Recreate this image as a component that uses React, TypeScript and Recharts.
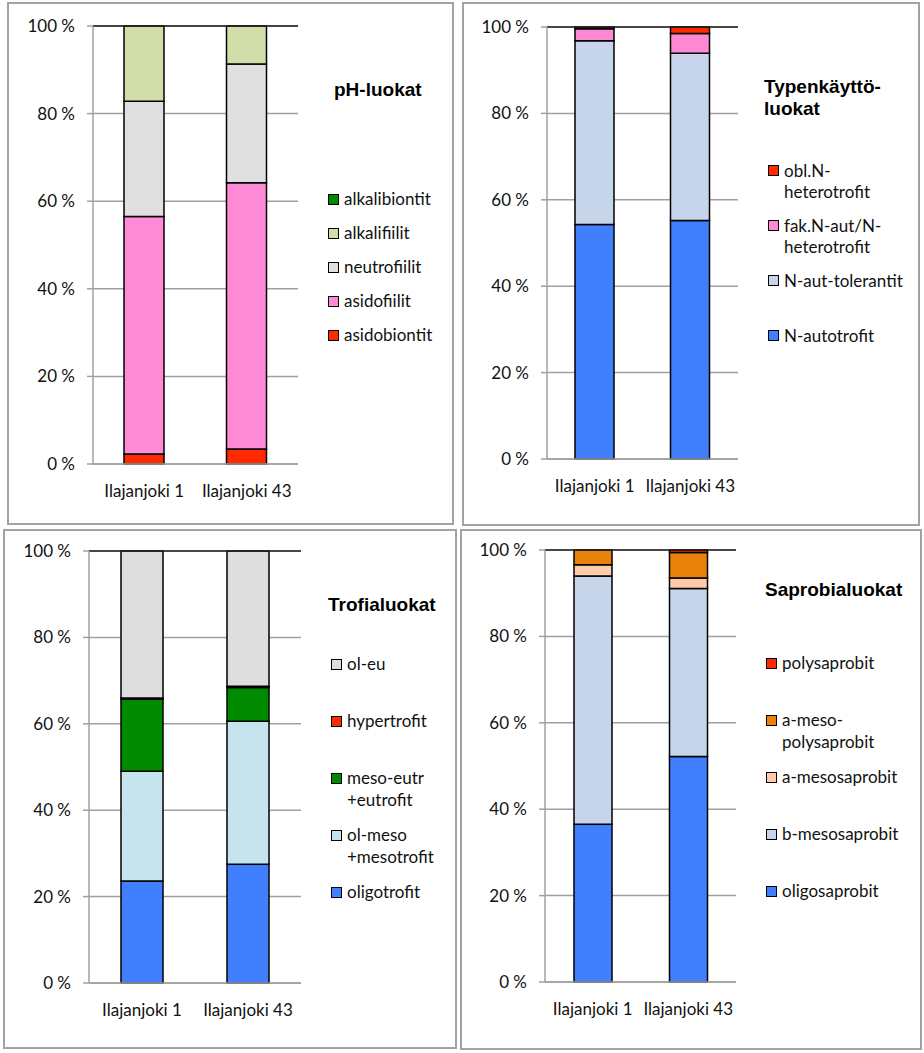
import React from 'react';
import { BarChart, Bar, XAxis, YAxis, CartesianGrid, ReferenceLine } from 'recharts';

const categories = ['Ilajanjoki 1', 'Ilajanjoki 43'];
const yTicks = [0, 20, 40, 60, 80, 100];

// pH-luokat (bottom to top)
const phSeries = ['asidobiontit', 'asidofiilit', 'neutrofiilit', 'alkalifiilit', 'alkalibiontit'];
const phColors = ['#FF2A00', '#FF8AD6', '#E0E0E0', '#D2DEAA', '#008A00'];
const phValues = [
  [2.3, 3.4],
  [54.2, 60.8],
  [26.3, 27.1],
  [17.2, 8.7],
  [0, 0],
];

// Typenkäyttöluokat
const nSeries = ['N-autotrofit', 'N-aut-tolerantit', 'fak.N-aut/N-\nheterotrofit', 'obl.N-\nheterotrofit'];
const nColors = ['#4080FF', '#C6D5EA', '#FF88D4', '#FF2A00'];
const nValues = [
  [54.3, 55.2],
  [42.5, 38.7],
  [2.8, 4.6],
  [0.4, 1.5],
];

// Trofialuokat
const trSeries = ['oligotrofit', 'ol-meso\n+mesotrofit', 'meso-eutr\n+eutrofit', 'hypertrofit', 'ol-eu'];
const trColors = ['#4080FF', '#C6E4EE', '#008A00', '#FF2A00', '#DEDEDE'];
const trValues = [
  [23.6, 27.5],
  [25.4, 33.1],
  [16.7, 7.8],
  [0.3, 0.3],
  [34.0, 31.3],
];

// Saprobialuokat
const saSeries = ['oligosaprobit', 'b-mesosaprobit', 'a-mesosaprobit', 'a-meso-\npolysaprobit', 'polysaprobit'];
const saColors = ['#4080FF', '#C6D5EA', '#FFCBA8', '#E8820A', '#FF2A00'];
const saValues = [
  [36.5, 52.2],
  [57.5, 38.9],
  [2.6, 2.4],
  [3.4, 5.9],
  [0, 0.6],
];

const FONT = 'Lato, "Liberation Sans", sans-serif';

const buildRows = (series: string[], values: number[][]) =>
  categories.map((name, i) => {
    const row: any = { name };
    series.forEach((s, j) => {
      row[s] = values[j][i];
    });
    return row;
  });

interface PanelProps {
  title: string[];
  series: string[];
  colors: string[];
  values: number[][];
  box: [number, number, number, number];
  margin: { top: number; right: number; bottom: number; left: number };
  barSize: number;
  titlePos: { left: number; top: number };
  legendPos: { left: number; top: number };
  slot: number;
  lineHeight: number;
}

const Panel: React.FC<PanelProps> = ({
  title, series, colors, values, box, margin, barSize, titlePos, legendPos, slot, lineHeight,
}) => {
  const [x0, y0, x1, y1] = box;
  const data = buildRows(series, values);
  // legend lists the top series first
  const legendItems = series.map((s, i) => ({ name: s, color: colors[i] })).reverse();

  return (
    <>
      <div
        style={{
          position: 'absolute',
          left: x0 - 1,
          top: y0 - 1,
          width: x1 - x0 + 2,
          height: y1 - y0 + 2,
          border: '2px solid #a3a3a3',
          boxSizing: 'border-box',
        }}
      />
      <div style={{ position: 'absolute', left: x0, top: y0 }}>
        <BarChart width={x1 - x0} height={y1 - y0} data={data} margin={margin}>
          <CartesianGrid vertical={false} stroke="#a0a0a0" strokeWidth={1.5} />
          <XAxis
            dataKey="name"
            height={1}
            tickLine={false}
            tickSize={0}
            tickMargin={21}
            axisLine={{ stroke: '#a0a0a0', strokeWidth: 1.5 }}
            tick={{ fontFamily: FONT, fontSize: 17, fill: '#111' }}
            interval={0}
          />
          <XAxis
            xAxisId="edge"
            type="number"
            domain={[0, 2]}
            ticks={[0, 1, 2]}
            height={1}
            tick={false}
            axisLine={false}
            tickSize={6}
            tickLine={{ stroke: '#a0a0a0', strokeWidth: 1.5 }}
          />
          <YAxis
            width={60}
            domain={[0, 100]}
            ticks={yTicks}
            tickFormatter={(v) => `${v} %`}
            tickSize={6}
            tickMargin={12}
            tickLine={{ stroke: '#a0a0a0', strokeWidth: 1.5 }}
            axisLine={{ stroke: '#a0a0a0', strokeWidth: 1.5 }}
            tick={{ fontFamily: FONT, fontSize: 17, fill: '#111' }}
          />
          {series.map((s, i) => (
            <Bar
              key={s}
              dataKey={s}
              name={s}
              stackId="a"
              fill={colors[i]}
              stroke="#000"
              strokeWidth={1.5}
              barSize={barSize}
              isAnimationActive={false}
            />
          ))}
          <ReferenceLine y={100} stroke="#222" strokeWidth={1.5} />
          <ReferenceLine x={2} xAxisId="edge" stroke="#333" strokeWidth={1.5} />
        </BarChart>
        <div
          style={{
            position: 'absolute',
            left: titlePos.left,
            top: titlePos.top,
            fontFamily: '"Liberation Sans", Arial, sans-serif',
            fontWeight: 'bold',
            fontSize: 19,
            lineHeight: '22px',
            color: '#000',
            whiteSpace: 'nowrap',
          }}
        >
          {title.map((t, i) => (
            <div key={i}>{t}</div>
          ))}
        </div>
        <div
          style={{
            position: 'absolute',
            left: legendPos.left,
            top: legendPos.top,
            fontFamily: FONT,
            fontSize: 17,
            color: '#111',
            whiteSpace: 'nowrap',
          }}
        >
          {legendItems.map((it) => (
            <div key={it.name} style={{ height: slot, display: 'flex', alignItems: 'flex-start' }}>
              <span
                style={{
                  display: 'inline-block',
                  width: 9,
                  height: 9,
                  marginTop: (lineHeight - 11) / 2,
                  background: it.color,
                  border: '1px solid #000',
                  flex: 'none',
                }}
              />
              <span style={{ marginLeft: 5, whiteSpace: 'pre-line', lineHeight: `${lineHeight}px` }}>
                {it.name}
              </span>
            </div>
          ))}
        </div>
      </div>
    </>
  );
};

export default function App() {
  return (
    <div style={{ position: 'absolute', left: 0, top: 0, width: 924, height: 1053, background: '#fff' }}>
      <Panel
        title={['pH-luokat']}
        series={phSeries}
        colors={phColors}
        values={phValues}
        box={[8, 3, 453, 524]}
        margin={{ top: 23, right: 155, bottom: 58, left: 25 }}
        barSize={40}
        titlePos={{ left: 326, top: 76 }}
        legendPos={{ left: 320, top: 186 }}
        slot={34}
        lineHeight={20}
      />
      <Panel
        title={['Typenkäyttö-', 'luokat']}
        series={nSeries}
        colors={nColors}
        values={nValues}
        box={[463, 3, 919, 525]}
        margin={{ top: 24, right: 181, bottom: 64, left: 24 }}
        barSize={39}
        titlePos={{ left: 301, top: 73 }}
        legendPos={{ left: 305, top: 157 }}
        slot={55}
        lineHeight={21}
      />
      <Panel
        title={['Trofialuokat']}
        series={trSeries}
        colors={trColors}
        values={trValues}
        box={[4, 530, 456, 1048]}
        margin={{ top: 21, right: 155, bottom: 63, left: 25 }}
        barSize={42}
        titlePos={{ left: 324, top: 64 }}
        legendPos={{ left: 327, top: 123 }}
        slot={57}
        lineHeight={22}
      />
      <Panel
        title={['Saprobialuokat']}
        series={saSeries}
        colors={saColors}
        values={saValues}
        box={[461, 530, 921, 1049]}
        margin={{ top: 20, right: 185, bottom: 65, left: 24 }}
        barSize={38}
        titlePos={{ left: 304, top: 49 }}
        legendPos={{ left: 305, top: 122 }}
        slot={57}
        lineHeight={22}
      />
    </div>
  );
}
